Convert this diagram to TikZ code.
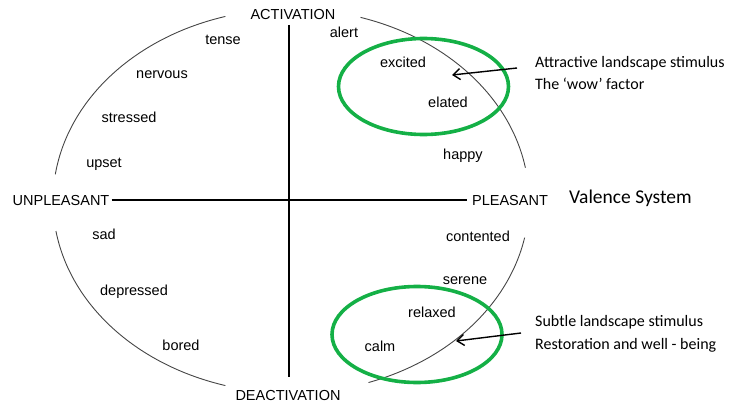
\documentclass[tikz,border=0pt]{standalone}
\usepackage{fontspec}
\setmainfont{Liberation Sans}
\newfontfamily\annfont{Carlito}
\usetikzlibrary{arrows.meta}
\definecolor{ringgreen}{RGB}{20,176,70}
\definecolor{arcgray}{RGB}{70,70,70}
\begin{document}
\begin{tikzpicture}[x=1pt,y=-1pt,
  word/.style={anchor=base, font=\fontsize{14.5}{16}\selectfont, inner sep=0pt},
  ann/.style={anchor=base west, font=\annfont\fontsize{16}{18}\selectfont, inner sep=0pt},
  axisline/.style={line width=1.5pt, black},
  arcline/.style={line width=0.9pt, arcgray},
  ring/.style={line width=3.6pt, ringgreen},
  pointer/.style={line width=1.4pt, -{Straight Barb[length=7pt,width=11pt]}}]
\useasboundingbox (0,0) rectangle (737,412);

% axis labels
\node[word] (act) at (293,20) {ACTIVATION};
\node[word] (deact) at (288,400) {DEACTIVATION};
\node[word] (unp) at (61,205) {UNPLEASANT};
\node[word] (pls) at (510,205) {PLEASANT};
\node[anchor=base west, font=\annfont\fontsize{19.5}{22}\selectfont, inner sep=0pt] (val) at (569,203) {Valence System};

% axes
\coordinate (axT) at (289,25);
\coordinate (axB) at (289,377);
\draw[axisline] (axT) -- (axB);
\draw[axisline] ([xshift=2pt]unp.east) -- ([xshift=-5pt]pls.west);

% circumplex arcs
\draw[arcline] plot[domain=106:172, samples=60] ({291+238*cos(\x)},{201-192*sin(\x)});
\draw[arcline] plot[domain=189:254, samples=60] ({291+238*cos(\x)},{201-192*sin(\x)});
\draw[arcline] plot[domain=10:73, samples=60] ({291+238*cos(\x)},{201-192*sin(\x)});
\draw[arcline] plot[domain=-71:-11, samples=60] ({291+238*cos(\x)},{201-192*sin(\x)});

% emotion words
\node[word] (tense) at (223,45) {tense};
\node[word] (alert) at (344,38) {alert};
\node[word] (nervous) at (162,78) {nervous};
\node[word] (stressed) at (129,122) {stressed};
\node[word] (upset) at (104,167) {upset};
\node[word] (excited) at (403,67) {excited};
\node[word] (elated) at (448,108) {elated};
\node[word] (happy) at (463,159) {happy};
\node[word] (sad) at (104,239) {sad};
\node[word] (depressed) at (134,295) {depressed};
\node[word] (bored) at (181,350) {bored};
\node[word] (contented) at (478,241) {contented};
\node[word] (serene) at (465,284) {serene};
\node[word] (relaxed) at (432,317) {relaxed};
\node[word] (calm) at (380,351) {calm};

% green rings
\draw[ring] (423.5,86.5) ellipse [x radius=85, y radius=48];
\draw[ring] (417,334.5) ellipse [x radius=85, y radius=48];

% annotations
\node[ann] (attr) at (535,67) {Attractive landscape stimulus};
\node[ann] (wow) at (535,89) {The ‘wow’ factor};
\node[ann] (subtle) at (535,326) {Subtle landscape stimulus};
\node[ann] (resto) at (535,349) {Restoration and well - being};

% arrows
\coordinate (a1s) at (517,68);
\coordinate (a1e) at (452,75);
\coordinate (a2s) at (521,333);
\coordinate (a2e) at (456,341);
\draw[pointer] (a1s) -- (a1e);
\draw[pointer] (a2s) -- (a2e);
\end{tikzpicture}
\end{document}
